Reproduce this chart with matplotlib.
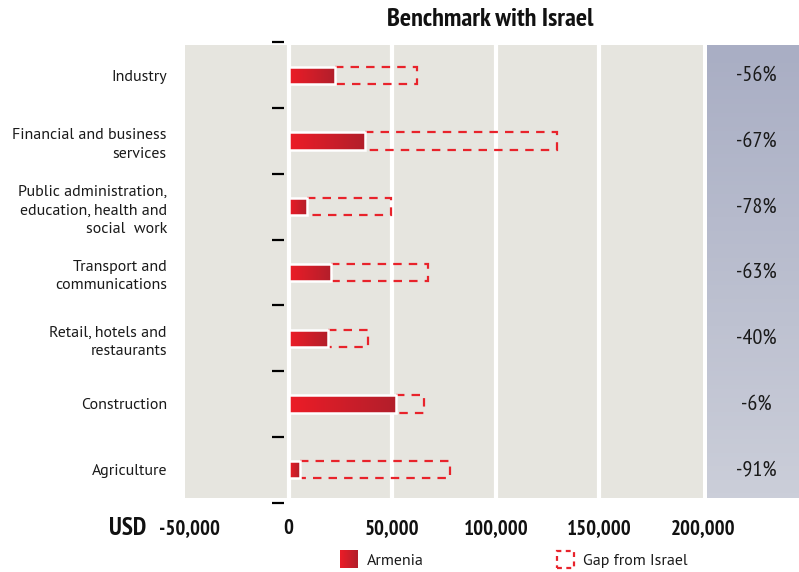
import numpy as np
import matplotlib
matplotlib.use('Agg')
import matplotlib.pyplot as plt
from matplotlib.colors import LinearSegmentedColormap
from matplotlib.patches import Rectangle
from matplotlib.transforms import ScaledTranslation

# Data (USD)
sectors = ['Industry', 'Financial and business\nservices',
           'Public administration,\neducation, health and\nsocial  work',
           'Transport and\ncommunications', 'Retail, hotels and\nrestaurants',
           'Construction', 'Agriculture']
armenia = [22200, 36700, 9000, 20300, 19000, 52000, 5300]
israel = [61800, 129500, 49300, 67300, 38300, 65200, 77800]
gap_pct = ['-56%', '-67%', '-78%', '-63%', '-40%', '-6%', '-91%']
xticks = [-50000, 0, 50000, 100000, 150000, 200000]
xtick_labels = ['-50,000', '0', '50,000', '100,000', '150,000', '200,000']

label_font = ['PT Sans', 'Noto Sans', 'DejaVu Sans']
narrow_font = ['PT Sans Narrow', 'Roboto Condensed', 'DejaVu Sans']

W, H = 799, 572
fig = plt.figure(figsize=(W / 100, H / 100), dpi=100)

def px_axes(x0, y0, x1, y1):
    return fig.add_axes([x0 / W, 1 - y1 / H, (x1 - x0) / W, (y1 - y0) / H])

ax = px_axes(185, 45, 703, 498)
ax.set_facecolor('#E6E5DF')
ylim = (6.43, -0.46)

red_cmap = LinearSegmentedColormap.from_list('red', ['#EC1C27', '#B21F2B'])
grad = np.linspace(0, 1, 64).reshape(1, -1)

# white gridlines
for v in [0, 50000, 100000, 150000]:
    ax.axvline(v, color='white', lw=3, zorder=1)

y = np.arange(len(sectors))
h = 0.26

# gap boxes (Armenia -> Israel)
gaps = [i - a for i, a in zip(israel, armenia)]
ax.barh(y, gaps, left=armenia, height=h, fill=False, edgecolor='#E8232B',
        linestyle=(0, (3.8, 3.2)), lw=1.6, zorder=2)

# Armenia bars with gradient
bars = ax.barh(y, armenia, height=h, facecolor='#D42028', edgecolor='none', zorder=3)
for b, yy, val in zip(bars, y, armenia):
    im = ax.imshow(grad, extent=[0, val, yy + h / 2, yy - h / 2], cmap=red_cmap,
                   aspect='auto', zorder=3)
    im.set_clip_path(b)
ax.barh(y, armenia, height=h, fill=False, edgecolor='white', lw=1.8, zorder=4)

# separator ticks on the zero line
ax.hlines(np.arange(-0.5, len(sectors)), -7800, -2300, color='black', lw=1.6,
          clip_on=False, zorder=5)

ax.set_xlim(-50000, 200000)
ax.set_ylim(*ylim)
ax.set_yticks(y)
ax.set_yticklabels(sectors, fontfamily=label_font, fontsize=11.5, color='#1a1a1a',
                   linespacing=1.4)
ax.set_xticks(xticks)
ax.set_xticklabels(xtick_labels, fontfamily=narrow_font, fontsize=15,
                   fontweight='bold', color='#111111')
ax.tick_params(axis='both', length=0)
ax.tick_params(axis='y', pad=13)
ax.tick_params(axis='x', pad=15)
first = ax.get_xticklabels()[0]
first.set_transform(first.get_transform() + ScaledTranslation(0.05, 0, fig.dpi_scale_trans))
for s in ax.spines.values():
    s.set_visible(False)

ax.text(-0.1105, -0.068, 'USD', transform=ax.transAxes, ha='center', va='center',
        fontfamily=narrow_font, fontsize=18, fontweight='bold', color='#111111')

# right panel with gap percentages
pax = px_axes(707, 45, 799, 498)
pgrad = np.linspace(0, 1, 100).reshape(-1, 1)
pcmap = LinearSegmentedColormap.from_list('panel', ['#A9AEC4', '#CBCED9'])
pax.imshow(pgrad, extent=[0, 1, ylim[0], ylim[1]], cmap=pcmap, aspect='auto')
pax.set_xlim(0, 1)
pax.set_ylim(*ylim)
for yy, t in zip(y, gap_pct):
    pax.text(0.54, yy, t, ha='center', va='center', fontfamily=narrow_font,
             fontsize=16, color='#1a1a1a')
pax.axis('off')

fig.text(490 / W, 1 - 20 / H, 'Benchmark with Israel', ha='center', va='center',
         fontfamily=narrow_font, fontsize=19, fontweight='bold', color='#111111')

# legend
sax = px_axes(340, 550, 358, 568)
sax.imshow(grad, cmap=red_cmap, aspect='auto')
sax.axis('off')
fig.patches.append(Rectangle((557 / W, 1 - 568 / H), 17 / W, 17 / H, fill=False,
                             edgecolor='#E8232B', lw=1.6, linestyle=(0, (2.2, 2.0)),
                             transform=fig.transFigure, figure=fig))
fig.text(367 / W, 1 - 561 / H, 'Armenia', ha='left', va='center',
         fontfamily=label_font, fontsize=11.5, color='#1a1a1a')
fig.text(583 / W, 1 - 561 / H, 'Gap from Israel', ha='left', va='center',
         fontfamily=label_font, fontsize=11.5, color='#1a1a1a')

fig.savefig('out.png', dpi=100, facecolor='white')
